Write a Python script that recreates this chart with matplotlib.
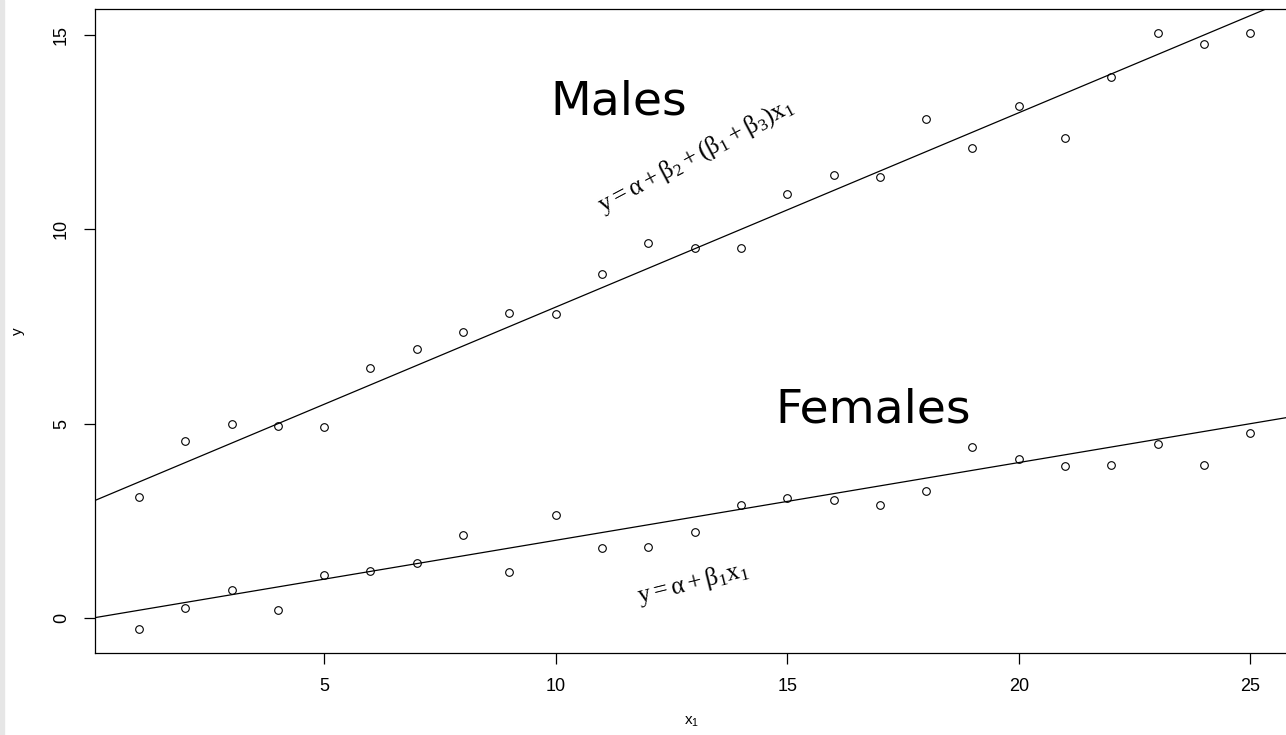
import numpy as np
import matplotlib.pyplot as plt
from matplotlib.patches import Rectangle

plt.rcParams['font.family'] = ['Liberation Sans', 'DejaVu Sans']
plt.rcParams['mathtext.fontset'] = 'custom'
plt.rcParams['mathtext.rm'] = 'Liberation Serif'
plt.rcParams['mathtext.it'] = 'Liberation Serif'

x1 = np.arange(1, 26)
males = [3.12, 4.56, 5.00, 4.95, 4.92, 6.43, 6.93, 7.37, 7.86, 7.81,
         8.85, 9.66, 9.51, 9.51, 10.90, 11.39, 11.34, 12.84, 12.10, 13.17,
         12.35, 13.91, 15.04, 14.77, 15.04]
females = [-0.27, 0.25, 0.71, 0.21, 1.10, 1.21, 1.42, 2.14, 1.18, 2.64,
           1.81, 1.83, 2.22, 2.91, 3.08, 3.04, 2.92, 3.27, 4.40, 4.10,
           3.91, 3.93, 4.49, 3.95, 4.76]

# fitted lines (intercept, slope)
male_fit = (3.0, 0.5)
female_fit = (0.0, 0.2)

fig = plt.figure(figsize=(12.86, 7.35), dpi=100)
fig.patches.append(Rectangle((0, 0), 4 / 1286, 1, transform=fig.transFigure,
                             color='#e6e6e6', zorder=0))
ax = fig.add_axes([95 / 1286, 82 / 735, 1 - 95 / 1286 + 0.001, 644 / 735])

ax.plot(x1, males, 'o', mfc='none', mec='black', ms=5.5, mew=0.8)
ax.plot(x1, females, 'o', mfc='none', mec='black', ms=5.5, mew=0.8)
ax.axline((0, male_fit[0]), slope=male_fit[1], color='black', lw=0.9)
ax.axline((0, female_fit[0]), slope=female_fit[1], color='black', lw=0.9)

ax.set_xlim(0.05, 25.8)
ax.set_ylim(-0.90, 15.67)
ax.set_xticks([5, 10, 15, 20, 25])
ax.set_yticks([0, 5, 10, 15])
ax.tick_params(length=8, width=0.9, labelsize=13, pad=10)
for lab in ax.get_yticklabels():
    lab.set_rotation(90)
    lab.set_va('center')
for s in ax.spines.values():
    s.set_linewidth(0.9)

ax.set_xlabel(r'x$_\mathregular{1}$', fontsize=11, va='center')
ax.set_ylabel('y', fontsize=11, va='center')
ax.xaxis.set_label_coords(0.5, -0.107)
ax.yaxis.set_label_coords(-0.0647, 0.5)

ax.text(11.36, 13.28, 'Males', fontsize=34, family='DejaVu Sans',
        ha='center', va='center')
ax.text(16.85, 5.35, 'Females', fontsize=34, family='DejaVu Sans',
        ha='center', va='center')
ax.text(13.04, 11.89, r'$\mathrm{y} = \alpha + \beta_2 + (\beta_1 + \beta_3)\mathrm{x}_1$',
        fontsize=18, rotation=28, ha='center', va='center')
ax.text(12.96, 0.9, r'$\mathrm{y} = \alpha + \beta_1\mathrm{x}_1$',
        fontsize=18, rotation=14, ha='center', va='center')

fig.savefig('out.png', dpi=100)
